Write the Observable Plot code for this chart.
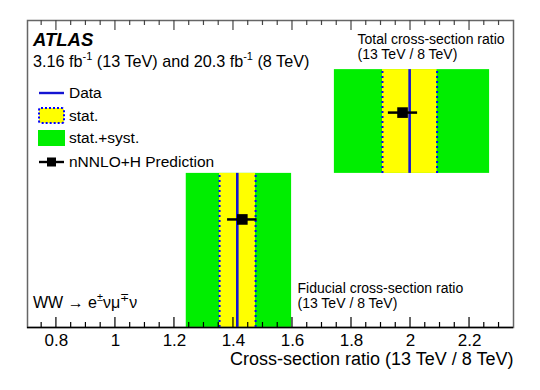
<!DOCTYPE html>
<html><head><meta charset="utf-8">
<script src="https://cdn.jsdelivr.net/npm/d3@7"></script>
<script src="https://cdn.jsdelivr.net/npm/@observablehq/plot@0.6"></script>
<style>
body{margin:0;background:#fff}
svg{font-family:"Liberation Sans",Arial,sans-serif}
</style>
</head><body><div id="chart"></div>
<script>
// ---- data ----
const measurements = ["Fiducial cross-section ratio", "Total cross-section ratio"];
const dataValue = [1.413, 1.997];
const statLow   = [1.353, 1.905];
const statHigh  = [1.475, 2.090];
const totalLow  = [1.240, 1.742];
const totalHigh = [1.597, 2.268];
const predValue = [1.430, 1.973];
const predLow   = [1.380, 1.925];
const predHigh  = [1.480, 2.024];
const rowBottom = [0, 5.02];
const rowTop    = [5.02, 8.40];
const predRow   = [3.52, 7.00];
const majorTicks = [0.8, 1.0, 1.2, 1.4, 1.6, 1.8, 2.0, 2.2];
const minorTicks = [0.75,0.85,0.9,0.95,1.05,1.1,1.15,1.25,1.3,1.35,1.45,1.5,1.55,1.65,1.7,1.75,1.85,1.9,1.95,2.05,2.1,2.15,2.25,2.3];
const legendLabels = ["Data", "stat.", "stat.+syst.", "nNNLO+H Prediction"];
const energyNote = "(13 TeV / 8 TeV)";
const xTitle = "Cross-section ratio (13 TeV / 8 TeV)";

const rows = measurements.map((m, i) => ({
  name: m, data: dataValue[i], sLo: statLow[i], sHi: statHigh[i],
  tLo: totalLow[i], tHi: totalHigh[i], pred: predValue[i], pLo: predLow[i], pHi: predHigh[i],
  y1: rowBottom[i], y2: rowTop[i], py: predRow[i]
}));

const W = 540, H = 390, mL = 27, mR = 27, mT = 20, mB = 63;
const FONT = '"Liberation Sans",Arial,sans-serif';
const GREEN = "#00ee00", YELLOW = "#ffff00", BLUE = "#0000ff", DATABLUE = "#1414d2";

const plot = Plot.plot({
  width: W, height: H, marginLeft: mL, marginRight: mR, marginTop: mT, marginBottom: mB,
  x: {domain: [0.702, 2.349]},
  y: {domain: [0, 10], axis: null},
  style: {fontFamily: FONT, background: "white", color: "black"},
  marks: [
    Plot.rect(rows, {x1: "tLo", x2: "tHi", y1: "y1", y2: "y2", fill: GREEN}),
    Plot.rect(rows, {x1: "sLo", x2: "sHi", y1: "y1", y2: "y2", fill: YELLOW}),
    Plot.ruleX(rows, {x: "sLo", y1: "y1", y2: "y2", stroke: BLUE, strokeWidth: 2, strokeDasharray: "2,3"}),
    Plot.ruleX(rows, {x: "sHi", y1: "y1", y2: "y2", stroke: BLUE, strokeWidth: 2, strokeDasharray: "2,3"}),
    Plot.ruleX(rows, {x: "data", y1: "y1", y2: "y2", stroke: DATABLUE, strokeWidth: 2.6}),
    Plot.ruleY(rows, {y: "py", x1: "pLo", x2: "pHi", stroke: "black", strokeWidth: 2.5}),
    Plot.dot(rows, {x: "pred", y: "py", symbol: "square", r: 6, fill: "black"}),
    Plot.frame({stroke: "#666", strokeWidth: 1.5}),
    Plot.ruleY([0], {stroke: "black", strokeWidth: 1.5}),
    Plot.axisX({ticks: majorTicks, tickSize: 0, tickPadding: 6, fontSize: 17,
      tickFormat: d => String(+d.toFixed(1)), label: null}),
    Plot.text([xTitle], {text: d => d, frameAnchor: "bottom-right", textAnchor: "end",
      lineAnchor: "middle", dy: 32, fontSize: 18}),
    Plot.text([measurements[1] + "\n" + energyNote], {text: d => d, frameAnchor: "top-left",
      textAnchor: "start", lineAnchor: "top", dx: 330, dy: 13, fontSize: 14, lineHeight: 1.08}),
    Plot.text([measurements[0] + "\n" + energyNote], {text: d => d, frameAnchor: "top-left",
      textAnchor: "start", lineAnchor: "top", dx: 270, dy: 262, fontSize: 14, lineHeight: 1.08})
  ]
});
document.getElementById("chart").appendChild(plot);

const svg = d3.select(plot);
const xs = plot.scale("x");
const yTop = mT, yBot = H - mB;

// inward-pointing ticks on bottom and mirrored top edge, placed with Plot's x scale
const tk = svg.append("g").attr("stroke-width", 1.2);
[[majorTicks, 10], [minorTicks, 5]].forEach(([arr, len]) => {
  arr.forEach(v => {
    const px = xs.apply(v);
    tk.append("line").attr("x1", px).attr("x2", px).attr("y1", yBot).attr("y2", yBot - len).attr("stroke", "black");
    tk.append("line").attr("x1", px).attr("x2", px).attr("y1", yTop).attr("y2", yTop + len).attr("stroke", "#444");
  });
});

// ---- header, process label and legend ----
const g = svg.append("g").attr("font-family", FONT).attr("fill", "black").attr("text-anchor", "start");

function richText(x, y, size, parts) {
  const t = g.append("text").attr("x", x).attr("y", y).attr("font-size", size).attr("text-anchor", "start");
  parts.forEach(p => {
    if (p.sup) {
      t.append("tspan").attr("dy", -size * 0.42).attr("font-size", size * 0.68).text(p.sup);
      t.append("tspan").attr("dy", size * 0.42).text(p.after || "");
    } else t.append("tspan").text(p.t);
  });
  return t;
}

g.append("text").attr("x", 33).attr("y", 45.5).attr("font-size", 18.5).attr("text-anchor", "start")
  .attr("font-weight", "bold").attr("font-style", "italic").text("ATLAS");
richText(33, 67, 16.2, [{t: "3.16 fb"}, {sup: "-1", after: " (13 TeV) and 20.3 fb"}, {sup: "-1", after: " (8 TeV)"}]);
richText(33, 308, 16, [{t: "WW \u2192 e"}, {sup: "\u00b1", after: "\u03bd\u03bc"}, {sup: "\u2213", after: "\u03bd"}]);

const legY = [93, 115.5, 138, 162];
g.append("line").attr("x1", 39).attr("x2", 64).attr("y1", legY[0]).attr("y2", legY[0])
  .attr("stroke", DATABLUE).attr("stroke-width", 2.4);
g.append("rect").attr("x", 39).attr("y", legY[1] - 7.5).attr("width", 25).attr("height", 15)
  .attr("rx", 2).attr("fill", YELLOW).attr("stroke", BLUE).attr("stroke-width", 2).attr("stroke-dasharray", "2,2");
g.append("rect").attr("x", 38).attr("y", legY[2] - 8).attr("width", 27).attr("height", 16).attr("fill", GREEN);
g.append("line").attr("x1", 39).attr("x2", 64).attr("y1", legY[3]).attr("y2", legY[3])
  .attr("stroke", "black").attr("stroke-width", 2.4);
g.append("rect").attr("x", 47).attr("y", legY[3] - 4.5).attr("width", 9).attr("height", 9).attr("fill", "black");
legendLabels.forEach((l, i) => {
  g.append("text").attr("x", 69).attr("y", legY[i] + 5.3).attr("font-size", 15.5).attr("text-anchor", "start").text(l);
});
</script>
</body></html>
